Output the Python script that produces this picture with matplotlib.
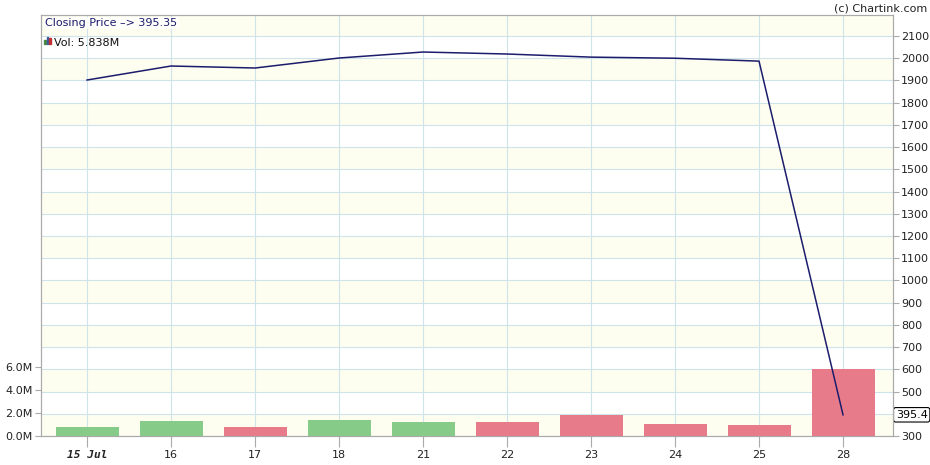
import matplotlib
matplotlib.use("Agg")
import matplotlib.pyplot as plt
import numpy as np

dates = ["15 Jul", "16", "17", "18", "21", "22", "23", "24", "25", "28"]
close = [1902, 1965, 1956, 2001, 2028, 2019, 2005, 2000, 1987, 395.35]
volume_m = [0.80, 1.30, 0.78, 1.40, 1.25, 1.25, 1.85, 1.05, 0.95, 5.838]
vol_up = [True, True, False, True, True, False, False, False, False, False]
price_ticks = list(range(300, 2101, 100))
vol_ticks = [0, 2, 4, 6]

green = "#86cc88"
red = "#e87b8a"
navy = "#1c1c6c"
grid_c = "#cfe3ea"
frame_c = "#aaaaaa"

fig = plt.figure(figsize=(9.3, 4.65), dpi=100)
ax = fig.add_axes([0.0441, 0.0624, 0.9161, 0.9053])
ax2 = ax.twinx()

pmin, pmax = 300, 2194.5
ymax_vol = 36.6

x = np.arange(len(dates))
ax.set_xlim(-0.548, 9.595)
ax.set_ylim(0, ymax_vol)
ax2.set_ylim(pmin, pmax)

for lo in range(300, 2200, 200):
    ax2.axhspan(lo, min(lo + 100, pmax), color="#fefef0", zorder=0, lw=0)
for p in price_ticks:
    ax2.axhline(p, color=grid_c, lw=0.8, zorder=0.5)
for xi in x:
    ax2.axvline(xi, color=grid_c, lw=0.8, zorder=0.5)

# put volume bars above price background
ax2.set_zorder(0)
ax.set_zorder(1)
ax.patch.set_visible(False)

colors = [green if u else red for u in vol_up]
ax.bar(x, volume_m, width=0.75, color=colors, zorder=2)

# price line drawn on ax in volume units via price transform
ax.plot(x, [(c - pmin) / (pmax - pmin) * ymax_vol for c in close], color=navy, lw=1.1, zorder=3)

ax.set_yticks(vol_ticks)
ax.set_yticklabels([f"{v:.1f}M" for v in vol_ticks])
ax2.set_yticks(price_ticks)
ax2.set_yticklabels(["" if p == 400 else str(p) for p in price_ticks])

ax.set_xticks(x)
ax.set_xticklabels(dates)
lbls = ax.get_xticklabels()
lbls[0].set_fontweight("bold")
lbls[0].set_fontstyle("italic")
lbls[0].set_family("DejaVu Sans Mono")

for a in (ax, ax2):
    for s in a.spines.values():
        s.set_color(frame_c)
    a.tick_params(labelsize=8, colors="#222222")
ax.tick_params(axis="x", length=8, color=frame_c, pad=2)
ax.tick_params(axis="y", length=4, color=frame_c, pad=2)
ax2.tick_params(axis="y", length=4, color=frame_c, pad=2)

ax.text(0.005, 0.993, "Closing Price \u2013> 395.35", transform=ax.transAxes,
        fontsize=8, color=navy, va="top", ha="left", zorder=5,
        bbox=dict(facecolor="white", edgecolor="none", pad=1, alpha=0.8))
ax.text(0.015, 0.945, "Vol: 5.838M", transform=ax.transAxes,
        fontsize=8, color="#111111", va="top", ha="left", zorder=5)
icon_h = [0.6, 1.0, 0.8]
icon_c = ["#4a8a4a", "#3a5aa0", "#c03030"]
for i, (h, c) in enumerate(zip(icon_h, icon_c)):
    fig.patches.append(plt.Rectangle((0.0475 + i * 0.0025, 0.9054), 0.0021, 0.016 * h,
                                     transform=fig.transFigure, color=c, figure=fig))

fig.text(0.997, 0.992, "(c) Chartink.com", fontsize=8, ha="right", va="top", color="#222222")

ax2.annotate("395.4", xy=(1.0, 395.35), xycoords=("axes fraction", "data"),
             xytext=(2, 0), textcoords="offset points", fontsize=8, va="center", ha="left",
             bbox=dict(boxstyle="round,pad=0.2", facecolor="white", edgecolor="black", lw=0.8),
             annotation_clip=False)

fig.savefig("out.png", dpi=100)
